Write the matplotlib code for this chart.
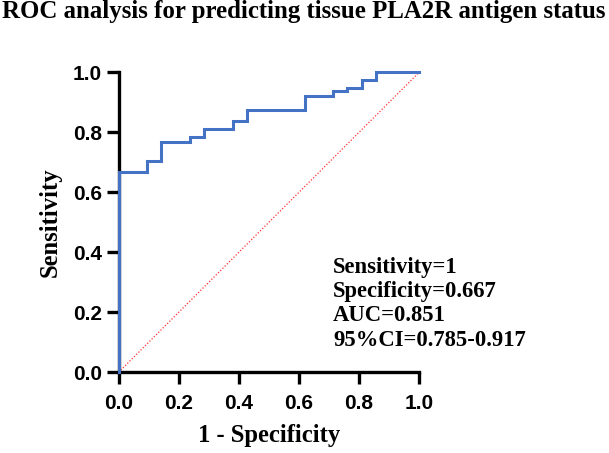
import matplotlib
matplotlib.use("Agg")
import matplotlib.pyplot as plt

title = "ROC analysis for predicting tissue PLA2R antigen status"
fpr = [0.0, 0.0, 0.095, 0.095, 0.143, 0.143, 0.238, 0.238, 0.286, 0.286,
       0.381, 0.381, 0.429, 0.429, 0.619, 0.619, 0.714, 0.714, 0.762, 0.762,
       0.810, 0.810, 0.857, 0.857, 1.0]
tpr = [0.0, 0.667, 0.667, 0.704, 0.704, 0.769, 0.769, 0.784, 0.784, 0.811,
       0.811, 0.838, 0.838, 0.874, 0.874, 0.922, 0.922, 0.939, 0.939, 0.949,
       0.949, 0.974, 0.974, 1.0, 1.0]
ticks = [0.0, 0.2, 0.4, 0.6, 0.8, 1.0]
tick_labels = ["0.0", "0.2", "0.4", "0.6", "0.8", "1.0"]
stats_lines = ["Sensitivity=1", "Specificity=0.667", "AUC=0.851", "95%CI=0.785-0.917"]

serif = "Liberation Serif"
sans = "Liberation Sans"

fig = plt.figure(figsize=(6.09, 4.53), dpi=100)
ax = fig.add_axes([0.1946, 0.178, 0.4934, 0.662])

ax.plot([0, 1], [0, 1], color="#ff3030", linestyle=(0, (1, 1.5)), linewidth=0.9, zorder=2)
ax.plot(fpr, tpr, color="#4472C4", linewidth=2.2, solid_joinstyle="miter", zorder=3, clip_on=False)

ax.set_xlim(0, 1)
ax.set_ylim(0, 1)
ax.set_xticks(ticks)
ax.set_yticks(ticks)
ax.set_xticklabels(tick_labels, fontfamily=sans, fontweight="bold", fontsize=15)
ax.set_yticklabels(tick_labels, fontfamily=sans, fontweight="bold", fontsize=15)
for s in ["top", "right"]:
    ax.spines[s].set_visible(False)
for s in ["left", "bottom"]:
    ax.spines[s].set_linewidth(2.4)
ax.tick_params(axis="both", direction="out", length=8.5, width=2.4)
ax.tick_params(axis="x", pad=7)
ax.tick_params(axis="y", pad=3.5)

ax.set_xlabel("1 - Specificity", fontfamily=serif, fontweight="bold", fontsize=17.7, labelpad=8)
ax.set_ylabel("Sensitivity", fontfamily=serif, fontweight="bold", fontsize=17.7, labelpad=8)

fig.text(2.5 / 609, 1 - 18 / 453, title, fontfamily=serif, fontweight="bold", fontsize=17.9,
         ha="left", va="baseline")

y0 = 273
for i, line in enumerate(stats_lines):
    fig.text(333 / 609, 1 - (y0 + i * 24.2) / 453, line, fontfamily=serif, fontweight="bold",
             fontsize=16.3, ha="left", va="baseline")

fig.savefig("out.png", dpi=100)
